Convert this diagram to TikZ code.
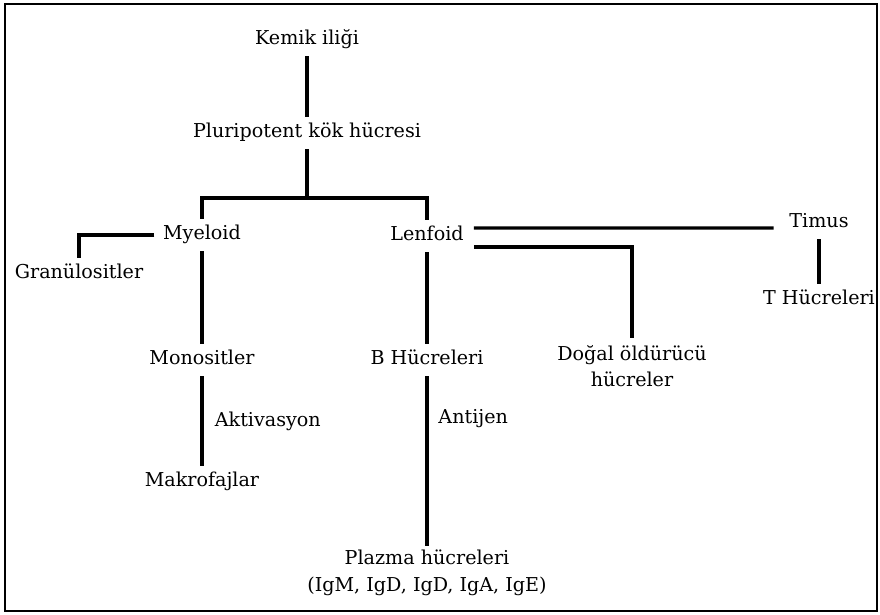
\documentclass[tikz,border=0pt]{standalone}
\usepackage{fontspec}
\setmainfont{DejaVu Serif}
\usetikzlibrary{positioning}

\begin{document}
\begin{tikzpicture}[
    x=0.025cm, y=-0.025cm,
    cell/.style={inner xsep=6pt, inner ysep=5pt, text height=10pt, text depth=3pt, font=\fontsize{13.6}{19}\selectfont},
    cellmulti/.style={inner xsep=6pt, inner ysep=5pt, align=center, font=\fontsize{13.6}{19}\selectfont},
    link/.style={line width=2.3pt},
    note/.style={font=\fontsize{13.6}{19}\selectfont, inner sep=0pt}
]
    \useasboundingbox (0,0) rectangle (880,614);

    % frame
    \draw[line width=1.3pt] (5,4) rectangle (877,611);

    % top of the tree
    \node[cell] (kemik) at (307,40) {Kemik iliği};
    \node[cell] (pluri) at (307,133) {Pluripotent kök hücresi};
    \coordinate (split) at (307,198);

    % two lines
    \node[cell] (myeloid) at (202,235) {Myeloid};
    \node[cell] (lenfoid) at (427,236) {Lenfoid};

    % myeloid side
    \node[cell] (granu) at (79,274) {Granülositler};
    \node[cell] (mono) at (202,360) {Monositler};
    \node[cell] (makro) at (202,482) {Makrofajlar};

    % lenfoid side
    \node[cell] (bhuc) at (427,360) {B Hücreleri};
    \node[cellmulti, inner ysep=3pt] (plazma) at (427,573) {Plazma hücreleri\\(IgM, IgD, IgD, IgA, IgE)};
    \node[cellmulti] (dogal) at (632,366) {Doğal öldürücü\\hücreler};
    \node[cell, inner xsep=11pt] (timus) at (819,223) {Timus};
    \node[cell] (thuc) at (819,300) {T Hücreleri};

    % Connectors
    \draw[link] (kemik) -- (pluri);
    \draw[link] (pluri) -- (split);
    \draw[link] (myeloid.north) |- (split) -| (lenfoid.north);
    \draw[link] (myeloid.west) -| (granu.north);
    \draw[link] (myeloid) -- (mono);
    \draw[link] (mono) -- node[note, right=8pt] {Aktivasyon} (makro);
    \draw[link] (lenfoid) -- (bhuc);
    \draw[link] (bhuc) -- node[note, right=7pt, pos=0.25] {Antijen} (plazma);
    \draw[link] ([xshift=1pt, yshift=5.7pt]lenfoid.east) -- ([yshift=-3.5pt]timus.west);
    \draw[link] ([xshift=1pt, yshift=-7.8pt]lenfoid.east) -| (dogal.north);
    \draw[link] (timus) -- (thuc);
\end{tikzpicture}
\end{document}
